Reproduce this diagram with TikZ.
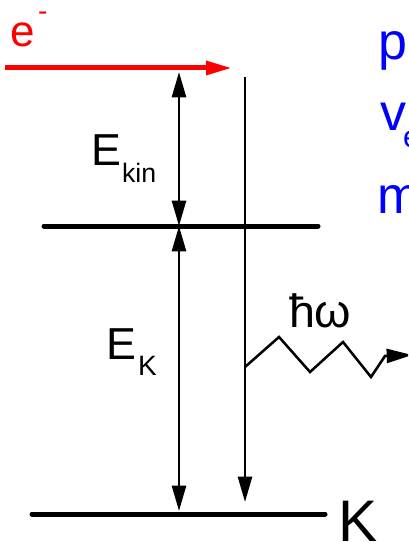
\documentclass[tikz,border=0pt]{standalone}
\usepackage{fontspec}
\setmainfont{Liberation Sans}
\usetikzlibrary{arrows.meta}
\begin{document}
\begin{tikzpicture}[x=0.75pt,y=-0.75pt,
  level/.style={line width=3.75pt, line cap=round},
  thinline/.style={line width=1.9pt},
  onetip/.style={-{Triangle[length=19pt,width=10.5pt]}},
  twotips/.style={{Triangle[length=19pt,width=10.5pt]}-{Triangle[length=19pt,width=10.5pt]}},
  lbl/.style={inner sep=0pt, outer sep=0pt, anchor=base west},
  bluetxt/.style={lbl, text=blue, font=\fontsize{39pt}{39pt}\selectfont}]
\useasboundingbox (0,0) rectangle (408,542);
\clip (0,0) rectangle (408,542);
% coordinates
\coordinate (eS) at (5,68);
\coordinate (eE) at (232,68);
\coordinate (kinTop) at (179,72);
\coordinate (kinBot) at (179,226);
\coordinate (midL) at (44,226);
\coordinate (midR) at (318,226);
\coordinate (vTop) at (245,77);
\coordinate (vBot) at (245,502);
\coordinate (ekBot) at (179,511);
\coordinate (botL) at (32,514);
\coordinate (botR) at (325,514);
\coordinate (z0) at (245,367);
\coordinate (z1) at (279,337);
\coordinate (z2) at (310,372);
\coordinate (z3) at (343,342);
\coordinate (z4) at (371,377);
\coordinate (z5) at (385,356);
\coordinate (z6) at (412,355);
% levels
\draw[level] (midL) -- (midR);
\draw[level] (botL) -- (botR);
% electron
\draw[red, line width=3.75pt, -{Triangle[length=19.5pt,width=10pt]}] (eS) -- (eE);
% energy arrows
\draw[thinline, twotips] (kinTop) -- (kinBot);
\draw[thinline, twotips] (kinBot) -- (ekBot);
\draw[thinline, onetip] (vTop) -- (vBot);
% photon
\draw[thinline, line join=miter, onetip] (z0) -- (z1) -- (z2) -- (z3) -- (z4) -- (z5) -- (z6);
% labels
\node[lbl, text=red, font=\fontsize{33pt}{33pt}\selectfont] (lblE) at (11,47) {e};
\node[lbl, text=red, font=\fontsize{21pt}{21pt}\selectfont] (lblMinus) at (38,21) {-};
\node[lbl, font=\fontsize{33.6pt}{33.6pt}\selectfont] (lblEkin) at (91.5,165) {E};
\node[lbl, font=\fontsize{20pt}{20pt}\selectfont] (lblKin) at (122,182) {kin};
\node[lbl, font=\fontsize{33.6pt}{33.6pt}\selectfont] (lblEK) at (106.5,359) {E};
\node[lbl, font=\fontsize{21pt}{21pt}\selectfont] (lblKsub) at (138,375) {K};
\node[lbl, font=\fontsize{44pt}{44pt}\selectfont] (lblK) at (338,541) {K};
\node[lbl, font=\fontsize{35pt}{35pt}\selectfont] (lblHw) at (289,327) {ħω};
\node[bluetxt] (lblP) at (378,60) {p};
\node[bluetxt] (lblV) at (380,130) {v};
\node[lbl, text=blue, font=\fontsize{23pt}{23pt}\selectfont] (lblVsub) at (403,147) {e};
\node[bluetxt] (lblM) at (377,213) {m};
\end{tikzpicture}
\end{document}
